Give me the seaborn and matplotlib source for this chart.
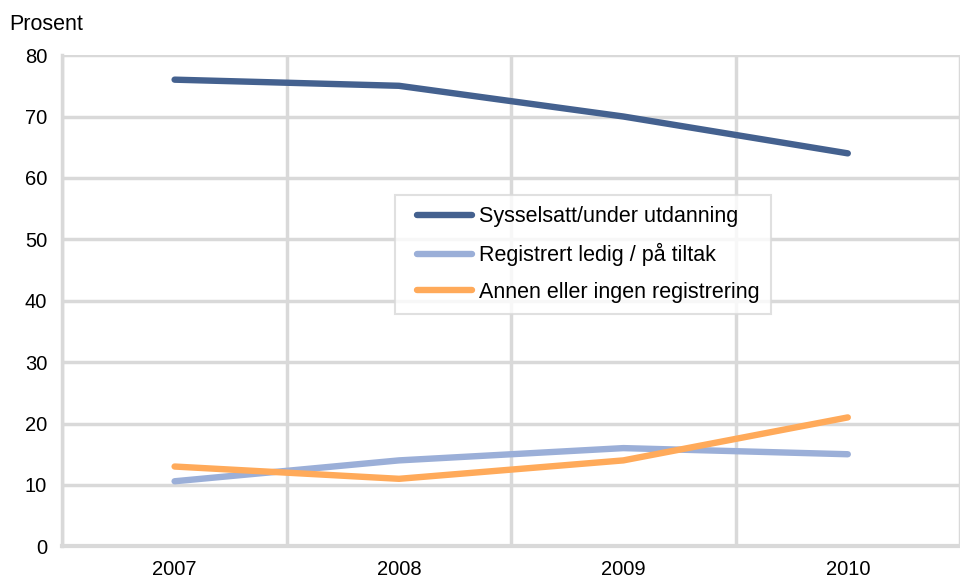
import matplotlib
matplotlib.use("Agg")
import matplotlib.pyplot as plt
import seaborn as sns
import pandas as pd

years = ["2007", "2008", "2009", "2010"]
sysselsatt = [76, 75, 70, 64]
registrert = [10.6, 14, 16, 15]
annen = [13, 11, 14, 21]

series_names = ["Sysselsatt/under utdanning", "Registrert ledig / på tiltak", "Annen eller ingen registrering"]
colors = ["#44618F", "#9BAFD8", "#FFAA5A"]

df = pd.DataFrame({"year": years, series_names[0]: sysselsatt,
                   series_names[1]: registrert, series_names[2]: annen})
long = df.melt(id_vars="year", var_name="serie", value_name="prosent")

sns.set_style("white")
plt.rcParams["font.family"] = ["Liberation Sans", "DejaVu Sans"]
plt.rcParams["text.color"] = "black"
plt.rcParams["xtick.color"] = "black"
plt.rcParams["ytick.color"] = "black"

fig = plt.figure(figsize=(9.6, 5.8), dpi=100)
ax = fig.add_axes([0.065, 0.058, 0.935, 0.847])

sns.lineplot(data=long, x="year", y="prosent", hue="serie", palette=colors,
             linewidth=4.6, ax=ax, sort=False, solid_capstyle="round")

ax.set_ylim(0, 80)
ax.set_xlim(-0.5, 3.47)
ax.set_yticks(range(0, 81, 10))
ax.set_xticks(range(4))
ax.set_xticklabels(years)
ax.set_xticks([-0.5, 0.5, 1.5, 2.5, 3.5], minor=True)
ax.grid(False)
ax.yaxis.grid(True, color="#D9D9D9", linewidth=2.5)
ax.xaxis.grid(True, which="minor", color="#D9D9D9", linewidth=2.5)
ax.set_axisbelow(True)
for s in ["top", "right"]:
    ax.spines[s].set_visible(False)
ax.spines["left"].set_color("#D9D9D9")
ax.spines["left"].set_linewidth(2.5)
ax.spines["bottom"].set_color("#D9D9D9")
ax.spines["bottom"].set_linewidth(3)
ax.tick_params(axis="both", which="both", length=0, labelsize=14.5)
ax.tick_params(axis="y", pad=11)
ax.tick_params(axis="x", pad=10)
ax.set_xlabel("")
ax.set_ylabel("")
fig.text(0.010, 0.948, "Prosent", fontsize=15.5)

leg = ax.legend(title=None, loc="upper left", bbox_to_anchor=(0.371, 0.716),
                fontsize=15.5, frameon=True, fancybox=False, edgecolor="#D9D9D9",
                handlelength=3.0, handletextpad=0.33, labelspacing=0.72, borderpad=0.55,
                borderaxespad=0)
leg.get_frame().set_linewidth(1.5)
# pull the legend lines in a bit from the left edge of the box
for line in leg.get_lines():
    xd = line.get_xdata()
    yd = line.get_ydata()
    x0, x1 = xd[0], xd[-1]
    line.set_data([x0 + (x1 - x0) * 0.15, x1], [yd[0], yd[-1]])

fig.savefig("out.png", dpi=100)
